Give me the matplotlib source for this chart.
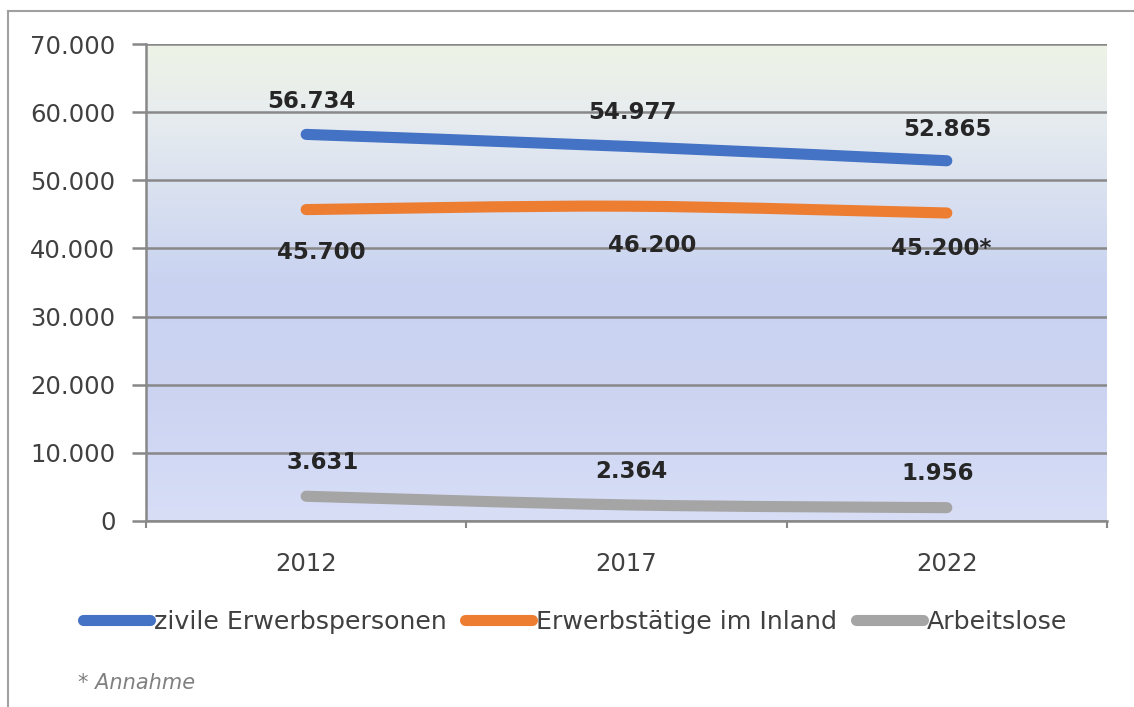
import numpy as np
import matplotlib
matplotlib.use("Agg")
import matplotlib.pyplot as plt
from matplotlib.path import Path
from matplotlib.patches import PathPatch
from matplotlib.lines import Line2D
from matplotlib.colors import LinearSegmentedColormap

# data (in thousands of persons)
years = ["2012", "2017", "2022"]
erwerbspersonen = [56734, 54977, 52865]
erwerbstaetige = [45700, 46200, 45200]
arbeitslose = [3631, 2364, 1956]
series_names = ["zivile Erwerbspersonen", "Erwerbstätige im Inland", "Arbeitslose"]
label_texts = [
    ["56.734", "54.977", "52.865"],
    ["45.700", "46.200", "45.200*"],
    ["3.631", "2.364", "1.956"],
]
yticks = [0, 10000, 20000, 30000, 40000, 50000, 60000, 70000]
ytick_labels = ["0", "10.000", "20.000", "30.000", "40.000", "50.000", "60.000", "70.000"]
footnote = "* Annahme"

colors = ["#4472c4", "#ed7d31", "#a5a5a5"]
# label offsets in pixels from each point
offsets = [
    [(5, 33), (6, 34), (1, 31)],
    [(15, -43), (26, -39), (-6, -36)],
    [(17, 34), (5, 33), (-9, 34)],
]
text_col = "#404040"


def smooth_path(xs, ys):
    # bezier through the points (like Excel's smoothed line)
    pts = np.column_stack([xs, ys]).astype(float)
    n = len(pts)
    verts = [pts[0]]
    codes = [Path.MOVETO]
    for i in range(n - 1):
        p0 = pts[max(i - 1, 0)]
        p1 = pts[i]
        p2 = pts[i + 1]
        p3 = pts[min(i + 2, n - 1)]
        c1 = p1 + (p2 - p0) / 6.0
        c2 = p2 - (p3 - p1) / 6.0
        verts += [c1, c2, p2]
        codes += [Path.CURVE4] * 3
    return Path(verts, codes)


fig = plt.figure(figsize=(11.34, 7.07), dpi=100)
ax = fig.add_axes([146 / 1134, 1 - 521 / 707, (1107 - 146) / 1134, (521 - 44) / 707])

# gradient background
cmap = LinearSegmentedColormap.from_list(
    "bg",
    [(0.0, "#eef3e6"), (0.15, "#e7ecef"), (0.5, "#c9d3f1"), (0.75, "#ccd4f2"), (1.0, "#d8def6")],
)
ax.imshow(np.linspace(0, 1, 256).reshape(-1, 1), cmap=cmap, aspect="auto",
          extent=[0, 1, 0, 1], transform=ax.transAxes, zorder=0)

x = np.arange(len(years))
all_series = [erwerbspersonen, erwerbstaetige, arbeitslose]
for vals, col, labs, offs in zip(all_series, colors, label_texts, offsets):
    patch = PathPatch(smooth_path(x, vals), fill=False, edgecolor=col, lw=8,
                      capstyle="round", joinstyle="round", zorder=3)
    ax.add_patch(patch)
    for xi, v, t, o in zip(x, vals, labs, offs):
        ax.annotate(t, (xi, v), xytext=o, textcoords="offset pixels",
                    ha="center", va="center", fontsize=16.5, fontweight="bold",
                    color="#262626", zorder=4)

ax.set_xlim(-0.5, len(years) - 0.5)
ax.set_ylim(0, 70000)

ax.set_yticks(yticks)
ax.set_yticklabels(ytick_labels)
ax.yaxis.grid(True, color="#888888", lw=1.8, zorder=1)
ax.set_axisbelow(True)

ax.set_xticks(np.arange(len(years) + 1) - 0.5)
ax.set_xticklabels([])
ax.set_xticks(x, minor=True)
ax.set_xticklabels(years, minor=True)
ax.tick_params(axis="x", which="major", length=5, width=1.5, color="#888888")
ax.tick_params(axis="x", which="minor", length=0, pad=22, labelsize=17.5, labelcolor=text_col)
ax.tick_params(axis="y", length=10, width=1.8, color="#888888", pad=12,
               labelsize=17.5, labelcolor=text_col)

for s in ["top", "right"]:
    ax.spines[s].set_visible(False)
for s in ["left", "bottom"]:
    ax.spines[s].set_color("#888888")
    ax.spines[s].set_linewidth(1.8)

handles = [Line2D([], [], color=c, lw=8, solid_capstyle="round") for c in colors]
leg = fig.legend(handles, series_names, loc="center left",
                 bbox_to_anchor=(83 / 1134, 1 - 622 / 707), bbox_transform=fig.transFigure,
                 ncol=3, frameon=False, fontsize=18.2, handlelength=2.65, handletextpad=0.15,
                 columnspacing=0.75, borderpad=0, borderaxespad=0)
for t in leg.get_texts():
    t.set_color(text_col)

fig.text(78 / 1134, 1 - 683 / 707, footnote, fontsize=15, style="italic",
         color="#808080", ha="left", va="center")

# outer frame
fig.add_artist(Line2D([8 / 1134, 8 / 1134], [0, 1 - 11 / 707], color="#a0a0a0", lw=1.5))
fig.add_artist(Line2D([8 / 1134, 1], [1 - 11 / 707, 1 - 11 / 707], color="#a0a0a0", lw=1.5))

fig.savefig("out.png", dpi=100)
